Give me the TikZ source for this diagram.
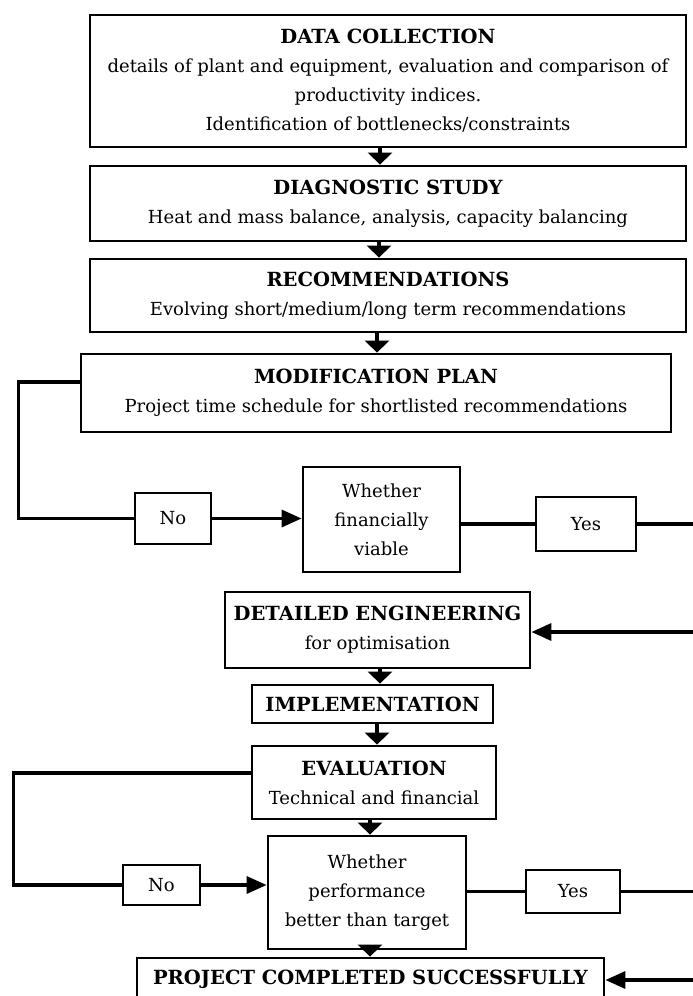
\documentclass[tikz,border=0pt]{standalone}
\usepackage{fontspec}
\setmainfont{DejaVu Serif}
\usetikzlibrary{arrows.meta}
\newcommand\headline[1]{{\fontsize{19.5}{29}\selectfont\bfseries #1}}
\begin{document}
\begin{tikzpicture}[x=1pt,y=-1pt,
  box/.style={draw, line width=2.8pt, inner sep=0pt, align=center,
    font=\fontsize{18}{29}\selectfont},
  sz/.style 2 args={minimum width=#1, minimum height=#2},
  flow/.style={line width=3.4pt},
  down/.style={line width=4.5pt, -{Triangle[length=12pt,width=24pt]}},
  side/.style={line width=3.4pt, -{Triangle[length=20pt,width=17pt]}},
]
\useasboundingbox (0,0) rectangle (693,996);

% main sequence of stages
\node[box, sz={596pt}{132pt}] (dc) at (388,81)
  {\headline{DATA COLLECTION}\\
   details of plant and equipment, evaluation and comparison of\\
   productivity indices.\\
   Identification of bottlenecks/constraints};
\node[box, sz={596pt}{75pt}] (ds) at (388,203.5)
  {\headline{DIAGNOSTIC STUDY}\\
   Heat and mass balance, analysis, capacity balancing};
\node[box, sz={596pt}{73pt}] (rec) at (388,295.5)
  {\headline{RECOMMENDATIONS}\\
   Evolving short/medium/long term recommendations};
\node[box, sz={590pt}{78pt}] (mp) at (376,393)
  {\headline{MODIFICATION PLAN}\\
   Project time schedule for shortlisted recommendations};

% first decision
\node[box, sz={157pt}{105pt}] (wf) at (381.5,519.5)
  {Whether\\ financially\\ viable};
\node[box, sz={76pt}{51pt}] (no1) at (173,518.5) {No};
\node[box, sz={100pt}{54pt}] (yes1) at (586,524) {Yes};

\node[box, sz={305pt}{76pt}] (de) at (377.5,630)
  {\headline{DETAILED ENGINEERING}\\ for optimisation};
\node[box, sz={241pt}{38pt}] (imp) at (372.5,704)
  {\headline{IMPLEMENTATION}};
\node[box, sz={244pt}{73pt}] (ev) at (374,782.5)
  {\headline{EVALUATION}\\ Technical and financial};

% second decision
\node[box, sz={198pt}{113pt}] (wp) at (367,892.5)
  {Whether\\ performance\\ better than target};
\node[box, sz={77pt}{40pt}] (no2) at (161.5,885) {No};
\node[box, sz={94pt}{43pt}] (yes2) at (573,891.5) {Yes};

\node[box, sz={467pt}{42pt}] (pc) at (370.5,979)
  {\headline{PROJECT COMPLETED SUCCESSFULLY}};

% return rail just past the right margin
\coordinate (rail) at (698,0);

% downward flow arrows
\draw[down] ([xshift=-8pt]dc.south) -- ([xshift=-8pt]dc.south |- ds.north);
\draw[down] ([xshift=-9pt]ds.south) -- ([xshift=-9pt]ds.south |- rec.north);
\draw[down] ([xshift=-11pt]rec.south) -- ([xshift=-11pt]rec.south |- mp.north);
\draw[down] ([xshift=2.5pt]de.south) -- ([xshift=2.5pt]de.south |- imp.north);
\draw[down] ([xshift=4.5pt]imp.south) -- ([xshift=4.5pt]imp.south |- ev.north);
\draw[down] ([xshift=-4pt]ev.south) -- ([xshift=-4pt]ev.south |- wp.north);
\draw[down] ([xshift=3pt]wp.south) -- ([xshift=3pt]wp.south |- pc.north);

% first decision loop
\draw[flow] ([yshift=11pt]mp.west) -- ++(-61,0) |- (no1.west);
\draw[side] (no1.east) -- (no1.east -| wf.west);
\draw[flow] (yes1.west -| wf.east) -- (yes1.west);
\draw[side] (yes1.east) -- (yes1.east -| rail) |- ([yshift=-2pt]de.east);

% second decision loop
\draw[flow] ([yshift=9.5pt]ev.west) -- ++(-237,0) |- (no2.west);
\draw[side] (no2.east) -- (no2.east -| wp.west);
\draw[flow] (yes2.west -| wp.east) -- (yes2.west);
\draw[side] (yes2.east) -- (yes2.east -| rail) |- ([yshift=-1pt]pc.east);
\end{tikzpicture}
\end{document}
